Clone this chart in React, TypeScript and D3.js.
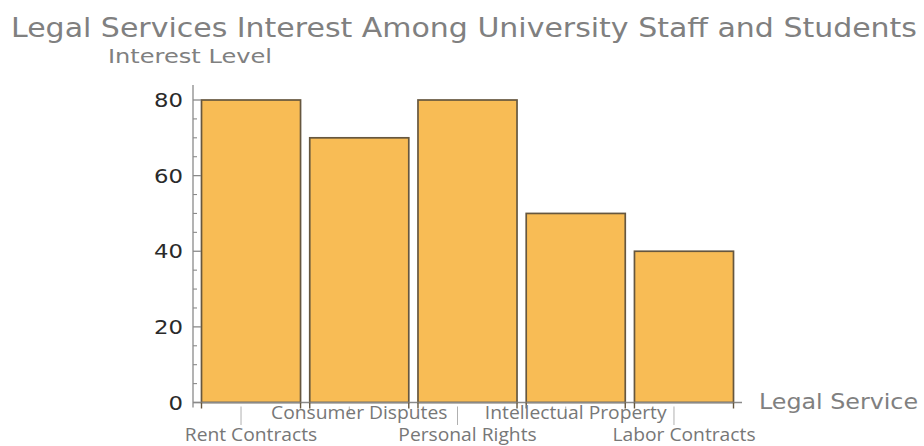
import React from "react";
import * as d3 from "d3";

const categories = ["Rent Contracts", "Consumer Disputes", "Personal Rights", "Intellectual Property", "Labor Contracts"];
const values = [80, 70, 80, 50, 40];
const yTicks = [0, 20, 40, 60, 80];
const yMinorTicks = d3.range(0, 85, 5).filter((v) => v % 20 !== 0);
const title = "Legal Services Interest Among University Staff and Students";
const yTitle = "Interest Level";
const xTitle = "Legal Service";

const W = 924;
const H = 446;

export default function App() {
  const x = d3.scaleBand<string>().domain(categories).range([201.5, 733.5]).paddingInner(0.085).paddingOuter(0);
  const y = d3.scaleLinear().domain([0, 80]).range([402.5, 100]);
  const axisX = 193;
  const axisColor = "#8a8a8a";
  const fill = "#f8bc55";
  const stroke = "#66573f";
  const stretch = 1.07;

  const edges: number[] = [];
  categories.forEach((c) => {
    edges.push(x(c)!);
    edges.push(x(c)! + x.bandwidth());
  });

  return (
    <svg width={W} height={H} style={{ position: "absolute", left: 0, top: 0, background: "#fff" }}>
      <text x={464} y={37} fontFamily="DejaVu Sans" fontSize={26} fill="#808080" textAnchor="middle" textLength={906} lengthAdjust="spacingAndGlyphs">{title}</text>
      <text x={108} y={63} fontFamily="DejaVu Sans" fontSize={20} fill="#808080" textLength={164} lengthAdjust="spacingAndGlyphs">{yTitle}</text>

      {categories.map((c, i) => (
        <rect key={c} x={x(c)!} y={y(values[i])} width={x.bandwidth()} height={y(0) - y(values[i])} fill={fill} stroke={stroke} strokeWidth={1.7} />
      ))}

      {/* y axis */}
      <line x1={axisX} x2={axisX} y1={y(84)} y2={y(0) + 5} stroke={axisColor} strokeWidth={1.3} />
      {yTicks.map((t) => (
        <g key={t}>
          <line x1={axisX} x2={axisX + 8} y1={y(t)} y2={y(t)} stroke={axisColor} strokeWidth={1.3} />
          <text x={183} y={y(t) + 7} fontFamily="DejaVu Sans" fontSize={19} fill="#2a2a2a" textAnchor="end" textLength={t === 0 ? 14.5 : 29} lengthAdjust="spacingAndGlyphs">{t}</text>
        </g>
      ))}
      {yMinorTicks.map((t) => (
        <line key={t} x1={axisX} x2={axisX + 4} y1={y(t)} y2={y(t)} stroke={axisColor} strokeWidth={1.1} />
      ))}

      {/* x axis */}
      <line x1={axisX} x2={742} y1={y(0)} y2={y(0)} stroke={axisColor} strokeWidth={1.3} />
      {edges.map((e, i) => (
        <line key={i} x1={e} x2={e} y1={y(0)} y2={y(0) + 6} stroke={stroke} strokeWidth={1.4} />
      ))}
      {categories.map((c, i) => {
        const cx = x(c)! + x.bandwidth() / 2;
        const row2 = i % 2 === 0;
        return (
          <g key={c}>
            <line x1={cx - 10} x2={cx - 10} y1={y(0) + 4} y2={row2 ? 425 : 413} stroke="#b0b0b0" strokeWidth={1} />
            <text transform={`translate(${cx},${row2 ? 441 : 419}) scale(${stretch},1)`} fontFamily="Open Sans" fontSize={18} fill="#777" textAnchor="middle">{c}</text>
          </g>
        );
      })}
      <text x={759} y={409} fontFamily="DejaVu Sans" fontSize={22} fill="#808080" textLength={159} lengthAdjust="spacingAndGlyphs">{xTitle}</text>
    </svg>
  );
}
